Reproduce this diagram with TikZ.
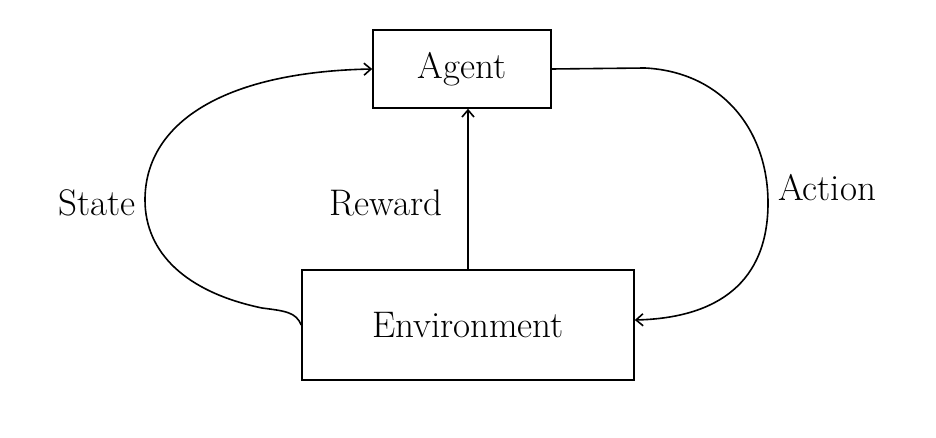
\documentclass[tikz,border=0pt]{standalone}
\usepackage{fontspec}
\usepackage{tikz}
\usetikzlibrary{calc,arrows,arrows.meta}

\begin{document}
\begin{tikzpicture}[x=1pt,y=-1pt,line width=1.6pt,>={Straight Barb[length=7pt,width=12pt]}]
        \fontsize{37}{42}\selectfont
        \useasboundingbox (0,0) rectangle (936,438);
        \begin{scope}
          \node[draw,minimum width=178pt,minimum height=78pt] (AG) at (462,69) {Agent};
          \node[draw,minimum width=332pt,minimum height=110pt] (EN) at (468,325) {Environment};
          \node (ST) at (97,203) {State};
          \node (RW) at (386,203) {Reward};
          \node (AC) at (827,188) {Action};

          \draw[->] (EN.north) -- (EN.north |- AG.south);
          \draw[->] (EN.west) .. controls (296,312) and (285,311) .. (262,308)
                    .. controls (185,292) and (145,252) .. (145,200)
                    .. controls (145,125) and (220,72) .. (AG.west);
          \draw[->] (AG.east) -- (645,68) .. controls (722,72) and (768,130) .. (768,203)
                    .. controls (768,282) and (718,318) .. ([yshift=5pt]EN.east);
        \end{scope}
      \end{tikzpicture}
\end{document}
